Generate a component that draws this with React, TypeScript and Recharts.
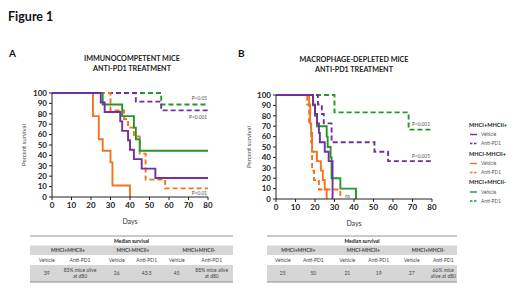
import React from "react";
import { LineChart, Line, XAxis, YAxis } from "recharts";

const PURPLE = "#7030A0";
const ORANGE = "#F47320";
const GREEN = "#27962A";
const FONT = "Lato, 'Open Sans', sans-serif";

// panel A — immunocompetent mice
const aPlusVehDays = [0, 25, 27, 35, 36, 39, 40, 42, 46, 53, 80];
const aPlusVehSurv = [100, 90.9, 81.8, 72.7, 63.6, 54.5, 45.5, 36.4, 27.3, 18.2, 18.2];
const aPlusPd1Days = [0, 43, 56, 80];
const aPlusPd1Surv = [100, 91.7, 83.3, 83.3];
const aMinusVehDays = [0, 21, 24, 26, 30, 31, 40];
const aMinusVehSurv = [100, 77.8, 55.6, 44.4, 33.3, 11.1, 0];
const aMinusPd1Days = [0, 30, 37, 39, 42, 45, 48, 58, 80];
const aMinusPd1Surv = [100, 83.3, 75, 66.7, 58.3, 41.7, 16.7, 8.3, 8.3];
const aNegVehDays = [0, 26, 36, 42, 43, 45, 80];
const aNegVehSurv = [100, 88.9, 77.8, 66.7, 55.6, 44.4, 44.4];
const aNegPd1Days = [0, 56, 80];
const aNegPd1Surv = [100, 88.9, 88.9];

// panel B — macrophage-depleted mice
const bPlusVehDays = [0, 19, 20, 21, 22, 22.5, 25, 27, 29];
const bPlusVehSurv = [100, 90.9, 81.8, 72.7, 63.6, 54.5, 45.5, 36.4, 0];
const bPlusPd1Days = [0, 21.5, 23.5, 24.5, 28.5, 50.5, 57.5, 80];
const bPlusPd1Surv = [100, 90.9, 81.8, 72.7, 54.5, 45.5, 36.4, 36.4];
const bMinusVehDays = [0, 17, 17.5, 18, 18.5, 21, 23, 24, 25, 26];
const bMinusVehSurv = [100, 90.9, 72.7, 63.6, 45.5, 36.4, 27.3, 18.2, 9.1, 0];
const bMinusPd1Days = [0, 16, 17, 18, 18.5, 19.5, 22, 33];
const bMinusPd1Surv = [100, 90.9, 72.7, 54.5, 27.3, 18.2, 9.1, 0];
const bNegVehDays = [0, 19, 20, 21, 26, 26.5, 28, 28.5, 33, 41];
const bNegVehSurv = [100, 90, 80, 70, 60, 50, 40, 20, 10, 0];
const bNegPd1Days = [0, 30, 68, 80];
const bNegPd1Surv = [100, 83.3, 66.7, 66.7];

const xTicks = [0, 10, 20, 30, 40, 50, 60, 70, 80];
const yTicks = [0, 10, 20, 30, 40, 50, 60, 70, 80, 90, 100];

const groups = ["MHCI+MHCII+", "MHCI-MHCII+", "MHCI+MHCII-"];
const arms = ["Vehicle", "Anti-PD1"];
const medianA = ["39", "83% mice alive|at d80", "26", "43.5", "45", "88% mice alive|at d80"];
const medianB = ["25", "50", "21", "19", "27", "66% mice|alive at d80"];

type Series = { days: number[]; surv: number[]; color: string; dashed: boolean };

const seriesA: Series[] = [
  { days: aNegPd1Days, surv: aNegPd1Surv, color: GREEN, dashed: true },
  { days: aPlusPd1Days, surv: aPlusPd1Surv, color: PURPLE, dashed: true },
  { days: aMinusPd1Days, surv: aMinusPd1Surv, color: ORANGE, dashed: true },
  { days: aMinusVehDays, surv: aMinusVehSurv, color: ORANGE, dashed: false },
  { days: aNegVehDays, surv: aNegVehSurv, color: GREEN, dashed: false },
  { days: aPlusVehDays, surv: aPlusVehSurv, color: PURPLE, dashed: false },
];

const seriesB: Series[] = [
  { days: bNegPd1Days, surv: bNegPd1Surv, color: GREEN, dashed: true },
  { days: bPlusPd1Days, surv: bPlusPd1Surv, color: PURPLE, dashed: true },
  { days: bMinusPd1Days, surv: bMinusPd1Surv, color: ORANGE, dashed: true },
  { days: bNegVehDays, surv: bNegVehSurv, color: GREEN, dashed: false },
  { days: bMinusVehDays, surv: bMinusVehSurv, color: ORANGE, dashed: false },
  { days: bPlusVehDays, surv: bPlusVehSurv, color: PURPLE, dashed: false },
];

const tickStyle = { fontSize: 8, fontWeight: 700, fill: "#222", fontFamily: FONT };

function Panel({ series, left, top }: { series: Series[]; left: number; top: number }) {
  return (
    <div style={{ position: "absolute", left, top }}>
      <LineChart width={198} height={142} margin={{ top: 8, right: 10, bottom: 0, left: 0 }}>
        <XAxis
          type="number"
          dataKey="x"
          domain={[0, 80]}
          ticks={xTicks}
          allowDuplicatedCategory={false}
          height={30}
          tickSize={3}
          stroke="#222"
          tick={tickStyle}
          label={{ value: "Days", position: "insideBottom", offset: 3, fontSize: 7, fill: "#333", fontFamily: FONT }}
        />
        <YAxis
          type="number"
          dataKey="y"
          domain={[0, 100]}
          ticks={yTicks}
          width={32}
          tickSize={3}
          stroke="#222"
          tick={tickStyle}
          interval={0}
        />
        {series.map((s, i) => (
          <Line
            key={i}
            data={s.days.map((d, j) => ({ x: d, y: s.surv[j] }))}
            dataKey="y"
            type="stepAfter"
            stroke={s.color}
            strokeWidth={1.9}
            strokeDasharray={s.dashed ? "5 3" : undefined}
            dot={false}
            isAnimationActive={false}
          />
        ))}
      </LineChart>
    </div>
  );
}

function MedianTable({ x0, x1, groupX, colX, values }: { x0: number; x1: number; groupX: number[]; colX: number[]; values: string[] }) {
  const mid = (x0 + x1) / 2;
  const ts = { fontSize: 5, fill: "#444", fontFamily: FONT, textAnchor: "middle" as const };
  return (
    <g>
      <line x1={x0} x2={x1} y1={236} y2={236} stroke="#777" strokeWidth={0.8} />
      <text x={mid} y={242.5} {...ts} fill="#222" fontWeight={700}>Median survival</text>
      <rect x={x0} y={245.5} width={x1 - x0} height={9.5} fill="#d6d6d6" />
      {groups.map((g, i) => (
        <text key={g} x={groupX[i]} y={252.2} {...ts} fontWeight={700}>{g}</text>
      ))}
      {colX.map((cx, i) => (
        <text key={"h" + i} x={cx} y={262} {...ts}>{arms[i % 2]}</text>
      ))}
      <rect x={x0} y={265} width={x1 - x0} height={17} fill="#d6d6d6" />
      {values.map((v, i) => {
        const parts = v.split("|");
        return parts.length === 1 ? (
          <text key={"v" + i} x={colX[i]} y={275.2} {...ts}>{v}</text>
        ) : (
          <text key={"v" + i} x={colX[i]} y={272} {...ts}>
            <tspan x={colX[i]}>{parts[0]}</tspan>
            <tspan x={colX[i]} dy={5.8}>{parts[1]}</tspan>
          </text>
        );
      })}
      <line x1={x0} x2={x1} y1={282} y2={282} stroke="#777" strokeWidth={0.8} />
    </g>
  );
}

const legendGroups = [
  { name: "MHCI+MHCII+", color: PURPLE, y: 124.5 },
  { name: "MHCI-MHCII+", color: ORANGE, y: 153.5 },
  { name: "MHCI+MHCII-", color: GREEN, y: 182 },
];

export default function App() {
  const small = { fontSize: 4.8, fill: "#555", fontFamily: FONT };
  const title = { fontSize: 7.2, fontWeight: 700, fill: "#222", fontFamily: FONT, textAnchor: "middle" as const };
  return (
    <div style={{ position: "absolute", left: 0, top: 0, width: 520, height: 292, background: "#fff", overflow: "hidden" }}>
      <Panel series={seriesA} left={20} top={85} />
      <Panel series={seriesB} left={244} top={87} />
      <svg width={520} height={292} style={{ position: "absolute", left: 0, top: 0, pointerEvents: "none" }}>
        <text x={8} y={21} fontSize={12.5} fontWeight={700} fill="#111" fontFamily={FONT}>Figure 1</text>
        <text x={9} y={57} fontSize={10} fontWeight={700} fill="#111" fontFamily={FONT}>A</text>
        <text x={238} y={57} fontSize={10} fontWeight={700} fill="#111" fontFamily={FONT}>B</text>
        <text x={132} y={61} {...title}>IMMUNOCOMPETENT MICE</text>
        <text x={132} y={71} {...title}>ANTI-PD1 TREATMENT</text>
        <text x={354} y={62} {...title}>MACROPHAGE-DEPLETED MICE</text>
        <text x={354} y={72} {...title}>ANTI-PD1 TREATMENT</text>
        <text transform="translate(26,145) rotate(-90)" textAnchor="middle" fontSize={6} fill="#444" fontFamily={FONT}>Percent survival</text>
        <text transform="translate(251,147) rotate(-90)" textAnchor="middle" fontSize={6} fill="#444" fontFamily={FONT}>Percent survival</text>
        <text x={207} y={100} textAnchor="end" {...small}>P&lt;0.05</text>
        <text x={207} y={119} textAnchor="end" {...small}>P&lt;0.001</text>
        <text x={207} y={195} textAnchor="end" {...small}>P&lt;0.01</text>
        <text x={412} y={126} {...small}>P&lt;0.001</text>
        <text x={412} y={157.5} {...small}>P&lt;0.005</text>
        <text x={345} y={197.5} {...small}>ns</text>
        {legendGroups.map((g) => (
          <g key={g.name}>
            <text x={469} y={g.y + 2} fontSize={5.6} fontWeight={700} fill="#222" fontFamily={FONT}>{g.name}</text>
            <line x1={470} x2={477} y1={g.y + 10} y2={g.y + 10} stroke={g.color} strokeWidth={1.4} />
            <text x={481} y={g.y + 11.8} {...small}>Vehicle</text>
            <line x1={470} x2={477} y1={g.y + 19} y2={g.y + 19} stroke={g.color} strokeWidth={1.4} strokeDasharray="2.5 1.5" />
            <text x={481} y={g.y + 20.8} {...small}>Anti-PD1</text>
          </g>
        ))}
        <MedianTable x0={30} x1={233} groupX={[68, 133, 199]} colX={[46.7, 80, 116.7, 146.7, 176.7, 211.7]} values={medianA} />
        <MedianTable x0={267} x1={457} groupX={[298.3, 363.3, 428.3]} colX={[282.7, 313.3, 347.3, 378.7, 411.7, 443.3]} values={medianB} />
      </svg>
    </div>
  );
}
